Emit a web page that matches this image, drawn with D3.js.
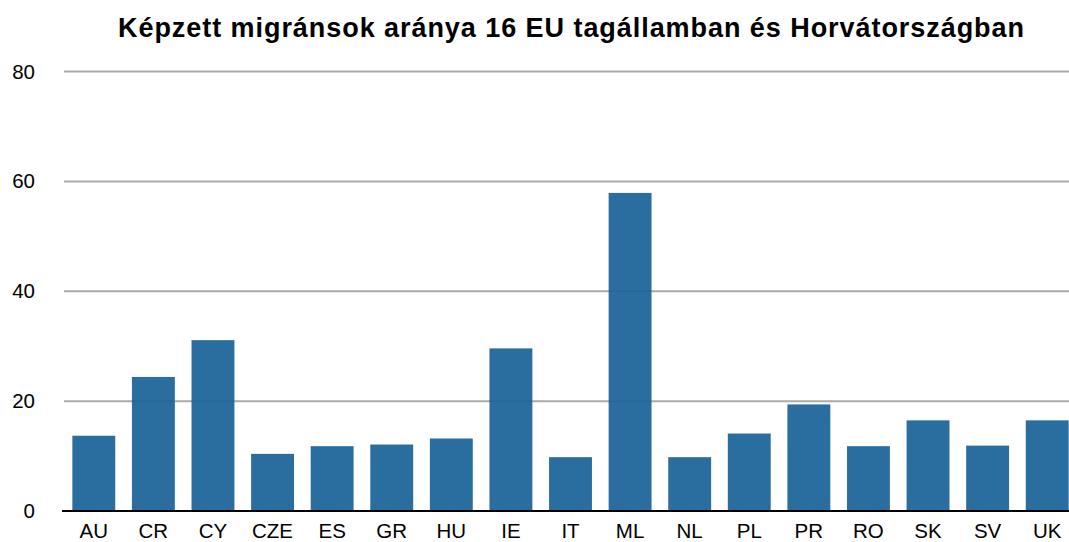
<!DOCTYPE html>
<html>
<head>
<script src="https://cdn.jsdelivr.net/npm/d3@7"></script>
<style>
  body { margin: 0; background: #fff; }
  text { font-family: "Liberation Sans", Arial, sans-serif; fill: #000; }
</style>
</head>
<body>
<script>
var width = 1069, height = 542;

var countries = ["AU", "CR", "CY", "CZE", "ES", "GR", "HU", "IE", "IT", "ML", "NL", "PL", "PR", "RO", "SK", "SV", "UK"];
var shares = [13.7, 24.4, 31.1, 10.4, 11.8, 12.1, 13.2, 29.6, 9.8, 57.9, 9.8, 14.1, 19.4, 11.8, 16.5, 11.9, 16.5];
var yTicks = [0, 20, 40, 60, 80];
var title = "Képzett migránsok aránya 16 EU tagállamban és Horvátországban";

var svg = d3.select("body").append("svg")
  .attr("width", width)
  .attr("height", height);

var x = d3.scaleBand()
  .domain(countries)
  .range([64, 1077])
  .paddingInner(0.28)
  .paddingOuter(0.14);

var y = d3.scaleLinear()
  .domain([0, 80])
  .range([511, 71.5]);

// grid lines
svg.append("g").selectAll("line")
  .data(yTicks.filter(function(d) { return d > 0; }))
  .enter().append("line")
  .attr("x1", 64)
  .attr("x2", width)
  .attr("y1", function(d) { return y(d); })
  .attr("y2", function(d) { return y(d); })
  .attr("stroke", "#aaa")
  .attr("stroke-width", 2);

// y labels
svg.append("g").selectAll("text")
  .data(yTicks)
  .enter().append("text")
  .attr("x", 35)
  .attr("y", function(d) { return y(d) + 7; })
  .attr("text-anchor", "end")
  .style("font-size", "20.5px")
  .text(function(d) { return d; });

// bars
svg.append("g").selectAll("rect")
  .data(shares)
  .enter().append("rect")
  .attr("x", function(d, i) { return x(countries[i]); })
  .attr("y", function(d) { return y(d); })
  .attr("width", x.bandwidth())
  .attr("height", function(d) { return y(0) - y(d); })
  .attr("fill", "#1a6399")
  .attr("fill-opacity", 0.93);

// baseline
svg.append("line")
  .attr("x1", 62).attr("x2", width)
  .attr("y1", y(0)).attr("y2", y(0))
  .attr("stroke", "#000")
  .attr("stroke-width", 2);

// x labels
svg.append("g").selectAll("text")
  .data(countries)
  .enter().append("text")
  .attr("x", function(d) { return x(d) + x.bandwidth() / 2; })
  .attr("y", 538)
  .attr("text-anchor", "middle")
  .style("font-size", "20.5px")
  .text(function(d) { return d; });

svg.append("text")
  .attr("x", 571)
  .attr("y", 37)
  .attr("text-anchor", "middle")
  .attr("textLength", 906)
  .attr("lengthAdjust", "spacing")
  .style("font-size", "27px")
  .style("font-weight", "bold")
  .text(title);
</script>
</body>
</html>
